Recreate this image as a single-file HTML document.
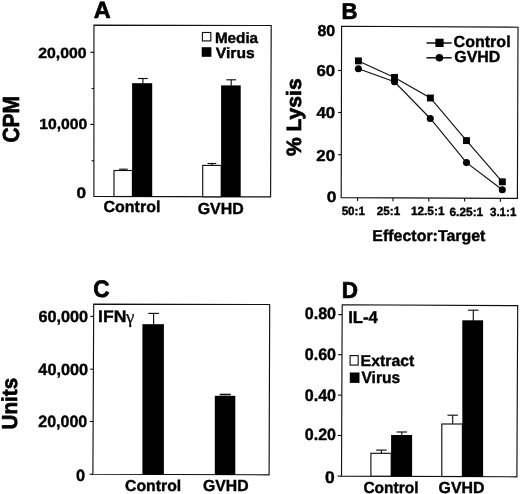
<!DOCTYPE html>
<html><head><meta charset="utf-8"><title>Figure</title>
<style>
html,body{margin:0;padding:0;background:#fff;}
body{width:520px;height:494px;overflow:hidden;}
svg{display:block;}
svg text{font-family:"Liberation Sans", Arial, Helvetica, sans-serif;font-weight:bold;fill:#000;stroke:#000;stroke-linejoin:round;text-rendering:geometricPrecision;}
</style></head><body>
<svg width="520" height="494" viewBox="0 0 520 494">
<rect width="520" height="494" fill="#fff"/>
<polygon fill="none" stroke="#111" stroke-width="1.15" stroke-linejoin="miter" points="93.95,25.1 271.2,25.5 270.6,196.9 93.9,196.4"/>
<line x1="90.30000000000001" y1="52.3" x2="93.9" y2="52.3" stroke="#111" stroke-width="1.15"/>
<line x1="90.30000000000001" y1="124.4" x2="93.9" y2="124.4" stroke="#111" stroke-width="1.15"/>
<line x1="91.60000000000001" y1="88.5" x2="93.9" y2="88.5" stroke="#111" stroke-width="1.15"/>
<line x1="91.60000000000001" y1="160.7" x2="93.9" y2="160.7" stroke="#111" stroke-width="1.15"/>
<rect x="114.0" y="170.5" width="18.4" height="26.0" fill="#fff" stroke="#111" stroke-width="1.15"/>
<line x1="123.4" y1="169.2" x2="123.4" y2="170.5" stroke="#111" stroke-width="1.15"/>
<line x1="119.10000000000001" y1="169.2" x2="127.7" y2="169.2" stroke="#111" stroke-width="1.15"/>
<rect x="132.1" y="83.2" width="20.1" height="113.6" fill="#000"/>
<line x1="142.9" y1="78.5" x2="142.9" y2="84" stroke="#111" stroke-width="1.15"/>
<line x1="138.05" y1="78.5" x2="147.75" y2="78.5" stroke="#111" stroke-width="1.15"/>
<rect x="202.7" y="165.4" width="18.5" height="31.4" fill="#fff" stroke="#111" stroke-width="1.15"/>
<line x1="211.9" y1="163.5" x2="211.9" y2="165.4" stroke="#111" stroke-width="1.15"/>
<line x1="207.6" y1="163.5" x2="216.20000000000002" y2="163.5" stroke="#111" stroke-width="1.15"/>
<rect x="221.1" y="85.4" width="19.6" height="111.6" fill="#000"/>
<line x1="231.2" y1="79.8" x2="231.2" y2="86" stroke="#111" stroke-width="1.15"/>
<line x1="226.35" y1="79.8" x2="236.04999999999998" y2="79.8" stroke="#111" stroke-width="1.15"/>
<rect x="202.4" y="32.5" width="8.4" height="8.4" fill="#fff" stroke="#111" stroke-width="1.15"/>
<rect x="201.7" y="47.2" width="9.7" height="9.6" fill="#000"/>
<polygon fill="none" stroke="#111" stroke-width="1.15" stroke-linejoin="miter" points="341.6,26.3 518.0,27.2 517.4,198.4 341.2,197.6"/>
<line x1="338.09999999999997" y1="70.5" x2="341.4" y2="70.5" stroke="#111" stroke-width="1.15"/>
<line x1="338.09999999999997" y1="112.5" x2="341.4" y2="112.5" stroke="#111" stroke-width="1.15"/>
<line x1="338.09999999999997" y1="154.7" x2="341.4" y2="154.7" stroke="#111" stroke-width="1.15"/>
<line x1="357.6" y1="197.7" x2="357.6" y2="201.0" stroke="#111" stroke-width="1.15"/>
<line x1="393.0" y1="197.89999999999998" x2="393.0" y2="201.2" stroke="#111" stroke-width="1.15"/>
<line x1="428.8" y1="198.1" x2="428.8" y2="201.4" stroke="#111" stroke-width="1.15"/>
<line x1="464.6" y1="198.29999999999998" x2="464.6" y2="201.6" stroke="#111" stroke-width="1.15"/>
<line x1="500.4" y1="198.5" x2="500.4" y2="201.8" stroke="#111" stroke-width="1.15"/>
<polyline fill="none" stroke="#111" stroke-width="1.15" points="358.4,60.9 394.5,77.4 430.4,98.0 466.5,140.6 502.3,181.8"/>
<polyline fill="none" stroke="#111" stroke-width="1.15" points="358.4,68.8 394.5,81.8 430.3,118.5 466.5,162.6 502.3,189.7"/>
<rect x="354.95" y="57.45" width="6.9" height="6.9" fill="#000"/>
<rect x="391.05" y="73.95" width="6.9" height="6.9" fill="#000"/>
<rect x="426.95" y="94.55" width="6.9" height="6.9" fill="#000"/>
<rect x="463.05" y="137.15" width="6.9" height="6.9" fill="#000"/>
<rect x="498.85" y="178.35" width="6.9" height="6.9" fill="#000"/>
<circle cx="358.4" cy="68.8" r="3.55" fill="#000"/>
<circle cx="394.5" cy="81.8" r="3.55" fill="#000"/>
<circle cx="430.3" cy="118.5" r="3.55" fill="#000"/>
<circle cx="466.5" cy="162.6" r="3.55" fill="#000"/>
<circle cx="502.3" cy="189.7" r="3.55" fill="#000"/>
<line x1="426.5" y1="43.0" x2="451.7" y2="43.0" stroke="#111" stroke-width="1.5"/>
<rect x="435.4" y="38.7" width="8.2" height="8.3" fill="#000"/>
<line x1="426.5" y1="57.8" x2="451.7" y2="57.8" stroke="#111" stroke-width="1.5"/>
<circle cx="439.4" cy="57.8" r="3.8" fill="#000"/>
<polygon fill="none" stroke="#111" stroke-width="1.15" stroke-linejoin="miter" points="93.7,304.1 269.7,304.5 269.1,474.8 92.9,474.3"/>
<line x1="90.39999999999999" y1="316.4" x2="93.6" y2="316.4" stroke="#111" stroke-width="1.15"/>
<line x1="90.2" y1="369.2" x2="93.4" y2="369.2" stroke="#111" stroke-width="1.15"/>
<line x1="89.89999999999999" y1="421.5" x2="93.1" y2="421.5" stroke="#111" stroke-width="1.15"/>
<line x1="89.7" y1="474.3" x2="92.9" y2="474.3" stroke="#111" stroke-width="1.15"/>
<rect x="142.4" y="324.2" width="21.5" height="150.5" fill="#000"/>
<line x1="153.6" y1="313.4" x2="153.6" y2="324.5" stroke="#111" stroke-width="1.15"/>
<line x1="148.29999999999998" y1="313.4" x2="158.9" y2="313.4" stroke="#111" stroke-width="1.15"/>
<rect x="214.8" y="395.8" width="20.5" height="79.1" fill="#000"/>
<line x1="219.7" y1="394.5" x2="230.7" y2="394.5" stroke="#111" stroke-width="1.6"/>
<polygon fill="none" stroke="#111" stroke-width="1.15" stroke-linejoin="miter" points="342.2,304.8 517.7,305.6 516.9,476.8 341.5,476.1"/>
<line x1="338.20000000000005" y1="314.6" x2="342.1" y2="314.6" stroke="#111" stroke-width="1.15"/>
<line x1="338.1" y1="354.7" x2="342.0" y2="354.7" stroke="#111" stroke-width="1.15"/>
<line x1="337.90000000000003" y1="395.1" x2="341.8" y2="395.1" stroke="#111" stroke-width="1.15"/>
<line x1="337.8" y1="435.5" x2="341.7" y2="435.5" stroke="#111" stroke-width="1.15"/>
<line x1="337.6" y1="476.1" x2="341.5" y2="476.1" stroke="#111" stroke-width="1.15"/>
<rect x="350.1" y="355.6" width="8.1" height="9.5" fill="#fff" stroke="#111" stroke-width="1.15"/>
<rect x="349.8" y="372.5" width="9.7" height="10.4" fill="#000"/>
<rect x="370.9" y="453.3" width="20.3" height="22.9" fill="#fff" stroke="#111" stroke-width="1.15"/>
<line x1="381.4" y1="450.1" x2="381.4" y2="453.3" stroke="#111" stroke-width="1.15"/>
<line x1="376.15" y1="450.1" x2="386.65" y2="450.1" stroke="#111" stroke-width="1.15"/>
<rect x="391.1" y="435.0" width="21.0" height="41.5" fill="#000"/>
<line x1="401.8" y1="432" x2="401.8" y2="436" stroke="#111" stroke-width="1.15"/>
<line x1="396.6" y1="432" x2="407.0" y2="432" stroke="#111" stroke-width="1.15"/>
<rect x="441.8" y="424" width="20.6" height="52.5" fill="#fff" stroke="#111" stroke-width="1.15"/>
<line x1="452.7" y1="415.2" x2="452.7" y2="424" stroke="#111" stroke-width="1.15"/>
<line x1="447.5" y1="415.2" x2="457.9" y2="415.2" stroke="#111" stroke-width="1.15"/>
<rect x="462.3" y="320.3" width="20.8" height="156.6" fill="#000"/>
<line x1="473.3" y1="310.2" x2="473.3" y2="321" stroke="#111" stroke-width="1.15"/>
<line x1="468.1" y1="310.2" x2="478.5" y2="310.2" stroke="#111" stroke-width="1.15"/>
<text x="93.65" y="17.95" font-size="23.48" textLength="16.96" lengthAdjust="spacingAndGlyphs" stroke-width="0.7">A</text>
<text x="38.23" y="58.30" font-size="14.86" textLength="48.39" lengthAdjust="spacingAndGlyphs" stroke-width="0.4">20,000</text>
<text x="39.26" y="129.30" font-size="14.71" textLength="48.05" lengthAdjust="spacingAndGlyphs" stroke-width="0.4">10,000</text>
<text x="76.41" y="197.70" font-size="15.14" textLength="9.59" lengthAdjust="spacingAndGlyphs" stroke-width="0.4">0</text>
<text x="103.56" y="211.70" font-size="16.00" textLength="56.83" lengthAdjust="spacingAndGlyphs" stroke-width="0.4">Control</text>
<text x="197.76" y="213.80" font-size="16.00" textLength="45.96" lengthAdjust="spacingAndGlyphs" stroke-width="0.4">GVHD</text>
<text x="214.93" y="43.40" font-size="15.00" textLength="43.18" lengthAdjust="spacingAndGlyphs" stroke-width="0.4">Media</text>
<text x="215.84" y="57.70" font-size="15.00" textLength="38.83" lengthAdjust="spacingAndGlyphs" stroke-width="0.4">Virus</text>
<text x="341.50" y="18.95" font-size="22.90" textLength="15.98" lengthAdjust="spacingAndGlyphs" stroke-width="0.7">B</text>
<text x="317.42" y="35.90" font-size="15.86" textLength="17.75" lengthAdjust="spacingAndGlyphs" stroke-width="0.4">80</text>
<text x="316.43" y="76.20" font-size="15.86" textLength="18.68" lengthAdjust="spacingAndGlyphs" stroke-width="0.4">60</text>
<text x="316.46" y="118.40" font-size="15.86" textLength="18.65" lengthAdjust="spacingAndGlyphs" stroke-width="0.4">40</text>
<text x="316.30" y="160.80" font-size="15.86" textLength="18.72" lengthAdjust="spacingAndGlyphs" stroke-width="0.4">20</text>
<text x="326.70" y="202.00" font-size="15.14" textLength="9.70" lengthAdjust="spacingAndGlyphs" stroke-width="0.4">0</text>
<text x="341.65" y="214.85" font-size="11.90" textLength="23.32" lengthAdjust="spacingAndGlyphs" stroke-width="0.4">50:1</text>
<text x="376.85" y="215.05" font-size="11.90" textLength="23.32" lengthAdjust="spacingAndGlyphs" stroke-width="0.4">25:1</text>
<text x="410.89" y="215.25" font-size="11.90" textLength="33.61" lengthAdjust="spacingAndGlyphs" stroke-width="0.4">12.5:1</text>
<text x="449.52" y="215.55" font-size="11.90" textLength="33.68" lengthAdjust="spacingAndGlyphs" stroke-width="0.4">6.25:1</text>
<text x="489.97" y="215.75" font-size="11.90" textLength="26.37" lengthAdjust="spacingAndGlyphs" stroke-width="0.4">3.1:1</text>
<text x="372.38" y="240.80" font-size="15.80" textLength="113.03" lengthAdjust="spacingAndGlyphs" stroke-width="0.4">Effector:Target</text>
<text x="453.56" y="47.30" font-size="16.00" textLength="57.04" lengthAdjust="spacingAndGlyphs" stroke-width="0.4">Control</text>
<text x="454.26" y="62.10" font-size="16.00" textLength="46.06" lengthAdjust="spacingAndGlyphs" stroke-width="0.4">GVHD</text>
<text x="93.35" y="296.55" font-size="23.86" textLength="16.33" lengthAdjust="spacingAndGlyphs" stroke-width="0.7">C</text>
<text x="38.45" y="321.60" font-size="16.29" textLength="49.68" lengthAdjust="spacingAndGlyphs" stroke-width="0.4">60,000</text>
<text x="38.37" y="375.00" font-size="16.29" textLength="49.75" lengthAdjust="spacingAndGlyphs" stroke-width="0.4">40,000</text>
<text x="38.22" y="427.30" font-size="16.43" textLength="49.00" lengthAdjust="spacingAndGlyphs" stroke-width="0.4">20,000</text>
<text x="76.04" y="480.60" font-size="16.43" textLength="9.11" lengthAdjust="spacingAndGlyphs" stroke-width="0.4">0</text>
<text x="98.07" y="322.30" font-size="16.90" textLength="28.27" lengthAdjust="spacingAndGlyphs" stroke-width="0.4">IFN</text>
<text x="126.0" y="322.70" style="font-family:'Liberation Serif','DejaVu Serif',serif;font-weight:normal;font-size:19px;stroke-width:0.25px">γ</text>
<text x="125.07" y="491.40" font-size="15.70" textLength="56.11" lengthAdjust="spacingAndGlyphs" stroke-width="0.4">Control</text>
<text x="203.07" y="491.40" font-size="16.00" textLength="45.55" lengthAdjust="spacingAndGlyphs" stroke-width="0.4">GVHD</text>
<text x="341.68" y="298.05" font-size="23.04" textLength="16.22" lengthAdjust="spacingAndGlyphs" stroke-width="0.7">D</text>
<text x="304.76" y="319.40" font-size="16.57" textLength="31.29" lengthAdjust="spacingAndGlyphs" stroke-width="0.4">0.80</text>
<text x="304.76" y="359.60" font-size="16.71" textLength="31.29" lengthAdjust="spacingAndGlyphs" stroke-width="0.4">0.60</text>
<text x="304.76" y="400.50" font-size="16.71" textLength="31.29" lengthAdjust="spacingAndGlyphs" stroke-width="0.4">0.40</text>
<text x="304.76" y="440.20" font-size="16.43" textLength="31.29" lengthAdjust="spacingAndGlyphs" stroke-width="0.4">0.20</text>
<text x="324.90" y="482.50" font-size="17.00" textLength="9.70" lengthAdjust="spacingAndGlyphs" stroke-width="0.4">0</text>
<text x="348.13" y="322.90" font-size="17.20" textLength="29.70" lengthAdjust="spacingAndGlyphs" stroke-width="0.4">IL-4</text>
<text x="360.59" y="366.00" font-size="15.80" textLength="53.68" lengthAdjust="spacingAndGlyphs" stroke-width="0.4">Extract</text>
<text x="361.54" y="383.10" font-size="16.30" textLength="38.62" lengthAdjust="spacingAndGlyphs" stroke-width="0.4">Virus</text>
<text x="363.38" y="492.50" font-size="16.00" textLength="55.18" lengthAdjust="spacingAndGlyphs" stroke-width="0.4">Control</text>
<text x="438.57" y="492.90" font-size="16.00" textLength="45.86" lengthAdjust="spacingAndGlyphs" stroke-width="0.4">GVHD</text>
<text transform="translate(19.25 142.59) rotate(-90)" x="0" y="0" font-size="23.29" textLength="46.64" lengthAdjust="spacingAndGlyphs" stroke-width="0.7">CPM</text>
<text transform="translate(301.35 156.08) rotate(-90)" x="0" y="0" font-size="20.68" textLength="77.72" lengthAdjust="spacingAndGlyphs" stroke-width="0.7">% Lysis</text>
<text transform="translate(17.15 429.38) rotate(-90)" x="0" y="0" font-size="21.64" textLength="51.46" lengthAdjust="spacingAndGlyphs" stroke-width="0.7">Units</text>
</svg>
</body></html>
